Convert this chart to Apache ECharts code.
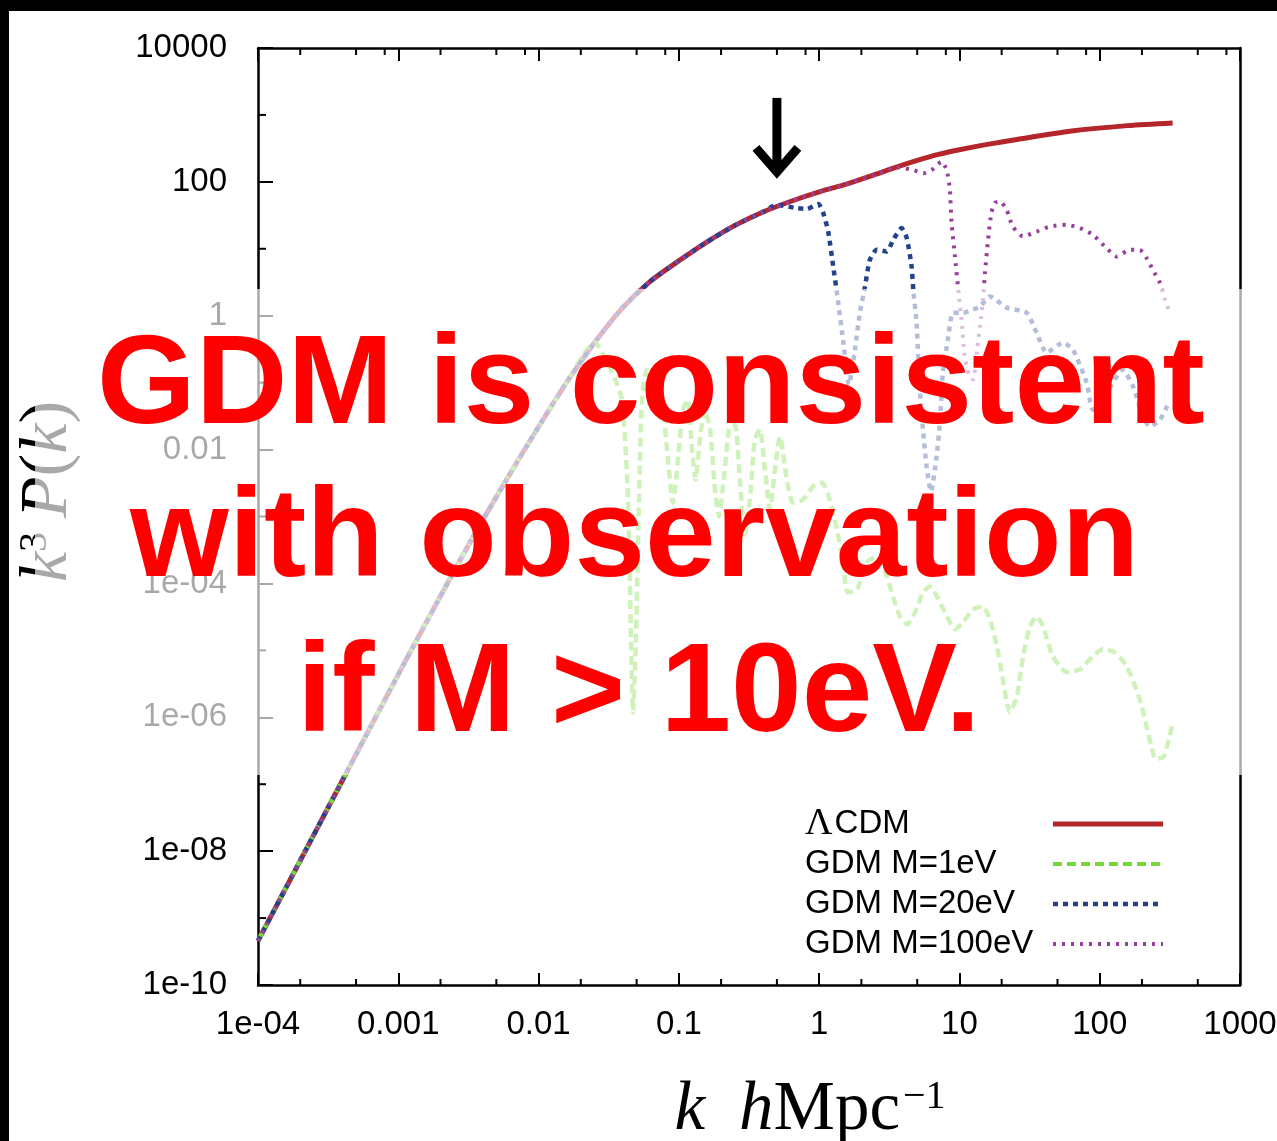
<!DOCTYPE html>
<html><head><meta charset="utf-8">
<script src="https://cdn.jsdelivr.net/npm/echarts@6/dist/echarts.min.js"></script>
<style>html,body{margin:0;padding:0;background:#fff;}#c{width:1277px;height:1141px;}</style>
</head><body><div id="c"></div>
<script>
// ---------- axis ticks / labels ----------
const xTickValues = [1e-4, 1e-3, 0.01, 0.1, 1, 10, 100, 1000];
const xTickLabels = ['1e-04', '0.001', '0.01', '0.1', '1', '10', '100', '1000'];
const yTickValues = [1e-10, 1e-8, 1e-6, 1e-4, 0.01, 1, 100, 10000];
const yTickLabels = ['1e-10', '1e-08', '1e-06', '1e-04', '0.01', '1', '100', '10000'];
const xMinorBottom = [2e-4, 5e-4, 2e-3, 5e-3, 0.02, 0.05, 0.2, 0.5, 2, 5, 20, 50, 200, 500];
const xMinorTop = [2e-4, 5e-4, 8e-4, 2e-3, 5e-3, 8e-3, 0.02, 0.05, 0.08, 0.2, 0.5, 0.8, 2, 5, 8, 20, 50, 80, 200, 500, 800];
const yMinor = [1e-9, 1e-7, 1e-5, 1e-3, 0.1, 10, 1000];

// ---------- series data (k in h/Mpc, k^3 P(k)) ----------
const seriesNames = ['ΛCDM', 'GDM M=1eV', 'GDM M=20eV', 'GDM M=100eV'];
const kLCDM = [1e-4, 3.16e-4, 1e-3, 3.16e-3, 6.31e-3, 0.01, 0.0158, 0.0251, 0.0398, 0.0631, 0.1, 0.158, 0.251, 0.398, 0.631, 1, 1.585, 2.51, 3.55, 5.01, 7.08, 10, 15.8, 25.1, 63.1, 158, 331];
const pLCDM = [4.57e-10, 4.47e-8, 4.37e-6, 3.72e-4, 4.47e-3, 0.0219, 0.1, 0.398, 1.32, 3.31, 6.61, 12.6, 22.4, 35.5, 51.3, 70.8, 93.3, 129, 166, 209, 257, 302, 363, 427, 575, 692, 759];

const kGreen = [0.0333, 0.0393, 0.0434, 0.0456, 0.0471, 0.0494, 0.052, 0.0546, 0.0593, 0.0676, 0.0759, 0.0836, 0.0908, 0.0986, 0.107, 0.116, 0.124, 0.132, 0.141, 0.153, 0.167, 0.181, 0.193, 0.209, 0.228, 0.251, 0.272, 0.296, 0.321, 0.348, 0.378, 0.411, 0.446, 0.484, 0.526, 0.589, 0.650, 0.767, 0.904, 1.05, 1.19, 1.34, 1.48, 1.60, 1.86, 2.19, 2.58, 3.04, 3.36, 3.77, 4.23, 4.82, 5.50, 6.17, 6.92, 8.15, 9.29, 10.6, 12.5, 14.7, 16.5, 18.5, 20.4, 22.9, 25.7, 28.4, 31.8, 35.6, 39.4, 46.3, 58.3, 72.3, 89.3, 105, 128, 156, 193, 221, 252, 287, 327];
const pGreen = [0.146, 0.0557, 0.00179, 1.46e-5, 1.19e-6, 1.46e-5, 0.00179, 0.0557, 0.156, 0.111, 0.0557, 0.0071, 0.00162, 0.0071, 0.0395, 0.0557, 0.01, 0.00356, 0.0141, 0.0395, 0.0199, 0.00253, 0.001, 0.00356, 0.0199, 0.0236, 0.00356, 5.38e-4, 0.00179, 0.0141, 0.0199, 0.00502, 0.00127, 0.00502, 0.0156, 0.00356, 0.00162, 0.00179, 0.0028, 0.00321, 0.00179, 6.4e-4, 2.06e-4, 7.35e-5, 8.13e-5, 2.06e-4, 2.53e-4, 1.27e-4, 6.4e-5, 3.21e-5, 2.44e-5, 3.69e-5, 7.35e-5, 9.02e-5, 6.4e-5, 3.21e-5, 2.06e-5, 2.62e-5, 4.09e-5, 4.54e-5, 2.9e-5, 1.15e-5, 3.69e-6, 1.19e-6, 2.06e-6, 8.13e-6, 2.28e-5, 3.21e-5, 2.28e-5, 8.13e-6, 4.7e-6, 5.2e-6, 8.13e-6, 1.04e-5, 9.33e-6, 5.77e-6, 1.86e-6, 5.97e-7, 2.36e-7, 2.62e-7, 7.35e-7];

const kBlue = [0.498, 0.692, 0.815, 0.986, 1.07, 1.16, 1.26, 1.36, 1.49, 1.63, 1.80, 1.95, 2.12, 2.30, 2.57, 3.03, 3.37, 3.87, 4.21, 4.56, 4.69, 4.95, 5.08, 5.22, 5.52, 5.83, 6.27, 6.87, 7.26, 7.62, 8.28, 8.99, 10.6, 14.0, 16.5, 21.7, 30.1, 35.5, 41.8, 54.7, 64.4, 80.7, 89.3, 112, 146, 173, 203, 228, 269, 306];
const pBlue = [45.4, 40.5, 39.2, 46.5, 34.1, 18.1, 5.45, 1.73, 0.392, 0.0933, 0.311, 1.11, 2.71, 6.85, 9.66, 9.12, 13.6, 20.4, 14.5, 5.45, 2.44, 0.787, 0.247, 0.0787, 0.0179, 0.00564, 0.00236, 0.00794, 0.0253, 0.141, 0.439, 1.11, 1.11, 1.38, 1.94, 1.32, 1.11, 0.557, 0.281, 0.395, 0.311, 0.1, 0.0395, 0.071, 0.156, 0.0871, 0.0311, 0.022, 0.028, 0.047];

const kPurple = [4.69, 5.52, 6.34, 7.46, 8.11, 8.55, 8.79, 9.29, 9.82, 10.4, 10.9, 11.7, 12.5, 13.3, 14.0, 14.7, 15.2, 16.0, 16.9, 17.9, 19.5, 21.7, 24.0, 28.4, 35.5, 44.2, 58.1, 72.3, 89.3, 112, 132, 164, 193, 216, 239, 269, 292, 316];
const pPurple = [150, 134, 150, 201, 151, 76, 24.2, 7.67, 2.44, 0.778, 0.247, 0.132, 0.111, 0.281, 0.685, 1.73, 4.39, 13.6, 34.4, 48.6, 50.8, 38.2, 21.5, 15.3, 18.1, 21.5, 22.8, 20.4, 16.2, 10.2, 7.67, 9.66, 9.66, 7.26, 4.86, 3.08, 1.73, 1.11];

const arrowAt = [0.5, 127];
const X_MIN = 1e-4, X_MAX = 1000, Y_MIN = 1e-10, Y_MAX = 1e4;

// ---------- helpers ----------
function zip(ks, ps) { return ks.map((k, i) => [k, ps[i]]); }
function withBase(ks, ps) {
  const first = ks[0];
  const base = [];
  kLCDM.forEach((k, i) => { if (k < first) base.push([k, pLCDM[i]]); });
  return base.concat(zip(ks, ps));
}
function lookup(values, labels) {
  return v => {
    for (let i = 0; i < values.length; i++) if (Math.abs(v / values[i] - 1) < 1e-6) return labels[i];
    return '';
  };
}
function minorTicks(values, side, len) {
  return {
    type: 'custom', xAxisIndex: 0, yAxisIndex: 0, silent: true, z: 3, clip: false,
    data: values.map(v => side === 'left' ? [X_MIN, v] : [v, side === 'top' ? Y_MAX : Y_MIN]),
    renderItem: (params, api) => {
      const p = api.coord([api.value(0), api.value(1)]);
      let shape;
      if (side === 'left') shape = { x1: p[0], y1: p[1], x2: p[0] + len, y2: p[1] };
      else if (side === 'top') shape = { x1: p[0], y1: p[1], x2: p[0], y2: p[1] + len };
      else shape = { x1: p[0], y1: p[1], x2: p[0], y2: p[1] - len };
      return { type: 'line', shape, style: { stroke: '#000', lineWidth: 2 } };
    }
  };
}

const tickFont = '"Liberation Sans", Arial, sans-serif';
const serif = '"Liberation Serif", "Times New Roman", serif';
const lineColors = ['#b5262b', '#74d83a', '#24428c', '#96409c'];

const chart = echarts.init(document.getElementById('c'), null, { renderer: 'canvas', width: 1277, height: 1141 });

const option = {
  animation: false,
  backgroundColor: '#fff',
  grid: { left: 258, top: 48, right: 37, bottom: 156, containLabel: false, outerBoundsMode: 'none' },
  xAxis: [
    {
      type: 'log', logBase: 10, min: X_MIN, max: X_MAX, interval: 1, position: 'bottom',
      axisLine: { show: true, onZero: false, lineStyle: { color: '#000', width: 2.5 } },
      axisTick: { show: true, inside: true, length: 12, lineStyle: { color: '#000', width: 2 } },
      splitLine: { show: false },
      axisLabel: { show: true, margin: 23, color: '#000', fontFamily: tickFont, fontSize: 33, formatter: lookup(xTickValues, xTickLabels) },
      name: '{i|k}{sp| }{i|h}{r|Mpc}{sup|−1}',
      nameLocation: 'middle', nameGap: 92,
      nameTextStyle: {
        padding: [0, 0, 0, 122],
        rich: {
          i: { fontFamily: serif, fontStyle: 'italic', fontSize: 69, lineHeight: 68, color: '#000' },
          r: { fontFamily: serif, fontSize: 69, lineHeight: 68, color: '#000' },
          sp: { fontFamily: serif, fontSize: 69, lineHeight: 68, width: 34 },
          sup: { fontFamily: serif, fontSize: 40, lineHeight: 40, verticalAlign: 'top', color: '#000', padding: [0, 0, 0, 3] }
        }
      }
    },
    {
      type: 'log', logBase: 10, min: X_MIN, max: X_MAX, interval: 1, position: 'top',
      axisLine: { show: true, onZero: false, lineStyle: { color: '#000', width: 2.5 } },
      axisTick: { show: true, inside: true, length: 13, lineStyle: { color: '#000', width: 2 } },
      splitLine: { show: false },
      axisLabel: { show: false }
    }
  ],
  yAxis: [
    {
      type: 'log', logBase: 10, min: Y_MIN, max: Y_MAX, interval: 2, position: 'left',
      axisLine: { show: true, onZero: false, lineStyle: { color: '#000', width: 2.5 } },
      axisTick: { show: true, inside: true, length: 15, lineStyle: { color: '#000', width: 2 } },
      splitLine: { show: false },
      axisLabel: { show: true, margin: 31, color: '#000', fontFamily: tickFont, fontSize: 33, formatter: lookup(yTickValues, yTickLabels) },
      name: '{i|k}{sup|3}{i|P}{r|(}{i|k}{r|)}',
      nameLocation: 'middle', nameGap: 177,
      nameTextStyle: {
        padding: [0, 0, 0, 50],
        rich: {
          i: { fontFamily: serif, fontStyle: 'italic', fontSize: 68, lineHeight: 66, color: '#000' },
          r: { fontFamily: serif, fontSize: 68, lineHeight: 66, color: '#000' },
          sup: { fontFamily: serif, fontSize: 40, lineHeight: 40, verticalAlign: 'top', color: '#000', padding: [0, 14, 0, 0] }
        }
      }
    },
    {
      type: 'log', logBase: 10, min: Y_MIN, max: Y_MAX, position: 'right',
      axisLine: { show: true, onZero: false, lineStyle: { color: '#000', width: 2.5 } },
      axisTick: { show: false }, axisLabel: { show: false }, splitLine: { show: false }
    }
  ],
  legend: {
    orient: 'vertical', left: 800, top: 799, align: 'right',
    itemWidth: 110, itemHeight: 14, itemGap: 0,
    data: [
      { name: seriesNames[0], lineStyle: { width: 5 }, itemStyle: { opacity: 0 } },
      { name: seriesNames[1], lineStyle: { width: 4 }, itemStyle: { opacity: 0 } },
      { name: seriesNames[2], lineStyle: { width: 4.5 }, itemStyle: { opacity: 0 } },
      { name: seriesNames[3], lineStyle: { width: 4 }, itemStyle: { opacity: 0 } }
    ],
    formatter: name => name === 'ΛCDM' ? '{g|Λ}{t|CDM}' : '{t|' + name + '}',
    textStyle: {
      width: 243, lineHeight: 40, color: '#000', fontFamily: '"Liberation Sans", Arial, sans-serif', fontSize: 33,
      rich: {
        t: { align: 'left', fontFamily: '"Liberation Sans", Arial, sans-serif', fontSize: 33, lineHeight: 40, color: '#000' },
        g: { align: 'left', fontFamily: serif, fontSize: 38, lineHeight: 40, color: '#000', padding: [0, 2, 0, 0] }
      }
    }
  },
  series: [
    {
      name: seriesNames[0], type: 'line', xAxisIndex: 0, yAxisIndex: 0, data: zip(kLCDM, pLCDM),
      symbol: 'none', showSymbol: false, smooth: 0.3, z: 2,
      lineStyle: { color: lineColors[0], width: 5 }, itemStyle: { color: lineColors[0] }
    },
    {
      name: seriesNames[1], type: 'line', xAxisIndex: 0, yAxisIndex: 0, data: withBase(kGreen, pGreen),
      symbol: 'none', showSymbol: false, smooth: 0.2, z: 2,
      lineStyle: { color: lineColors[1], width: 4.5, type: [9, 5], cap: 'butt' }, itemStyle: { color: lineColors[1] }
    },
    {
      name: seriesNames[2], type: 'line', xAxisIndex: 0, yAxisIndex: 0, data: withBase(kBlue, pBlue),
      symbol: 'none', showSymbol: false, smooth: 0.2, z: 2,
      lineStyle: { color: lineColors[2], width: 4.5, type: [5, 5], cap: 'butt' }, itemStyle: { color: lineColors[2] }
    },
    {
      name: seriesNames[3], type: 'line', xAxisIndex: 0, yAxisIndex: 0, data: withBase(kPurple, pPurple),
      symbol: 'none', showSymbol: false, smooth: 0.2, z: 2,
      lineStyle: { color: lineColors[3], width: 4, type: [3, 6], cap: 'butt' }, itemStyle: { color: lineColors[3] }
    },
    minorTicks(xMinorBottom, 'bottom', 6),
    minorTicks(xMinorTop, 'top', 7),
    minorTicks(yMinor, 'left', 8)
  ]
};
chart.setOption(option);

// ---------- overlay, slide text, arrow, frame ----------
const tip = chart.convertToPixel({ xAxisIndex: 0, yAxisIndex: 0 }, arrowAt);
const bigFont = { fontFamily: '"Liberation Sans", Arial, sans-serif', fontWeight: 'bold', fontSize: 127, fill: '#ff0000' };
chart.setOption({
  graphic: { elements: [
    { id: 'veil', type: 'rect', z: 100, silent: true, shape: { x: 35, y: 289, width: 1230, height: 486 }, style: { fill: 'rgba(255,255,255,0.66)' } },
    { id: 't1', type: 'text', z: 101, silent: true, style: Object.assign({ text: 'GDM is consistent', x: 97, y: 388, align: 'left', verticalAlign: 'middle' }, bigFont) },
    { id: 't2', type: 'text', z: 101, silent: true, style: Object.assign({ text: 'with observation', x: 130, y: 541, align: 'left', verticalAlign: 'middle' }, bigFont) },
    { id: 't3', type: 'text', z: 101, silent: true, style: Object.assign({ text: 'if M > 10eV.', x: 297, y: 696, align: 'left', verticalAlign: 'middle' }, bigFont) },
    { id: 'arrowShaft', type: 'line', z: 50, silent: true, shape: { x1: tip[0], y1: tip[1] - 77, x2: tip[0], y2: tip[1] - 6 }, style: { stroke: '#000', lineWidth: 9 } },
    { id: 'arrowHead', type: 'polyline', z: 50, silent: true, shape: { points: [[tip[0] - 21, tip[1] - 27], [tip[0], tip[1] - 3], [tip[0] + 21, tip[1] - 27]] }, style: { stroke: '#000', lineWidth: 9, lineJoin: 'miter', fill: null } },
    { id: 'frameTop', type: 'rect', z: 200, silent: true, shape: { x: 0, y: 0, width: 1277, height: 11 }, style: { fill: '#000' } },
    { id: 'frameLeft', type: 'rect', z: 200, silent: true, shape: { x: 0, y: 0, width: 9, height: 1141 }, style: { fill: '#000' } }
  ] }
});
</script>
</body></html>
